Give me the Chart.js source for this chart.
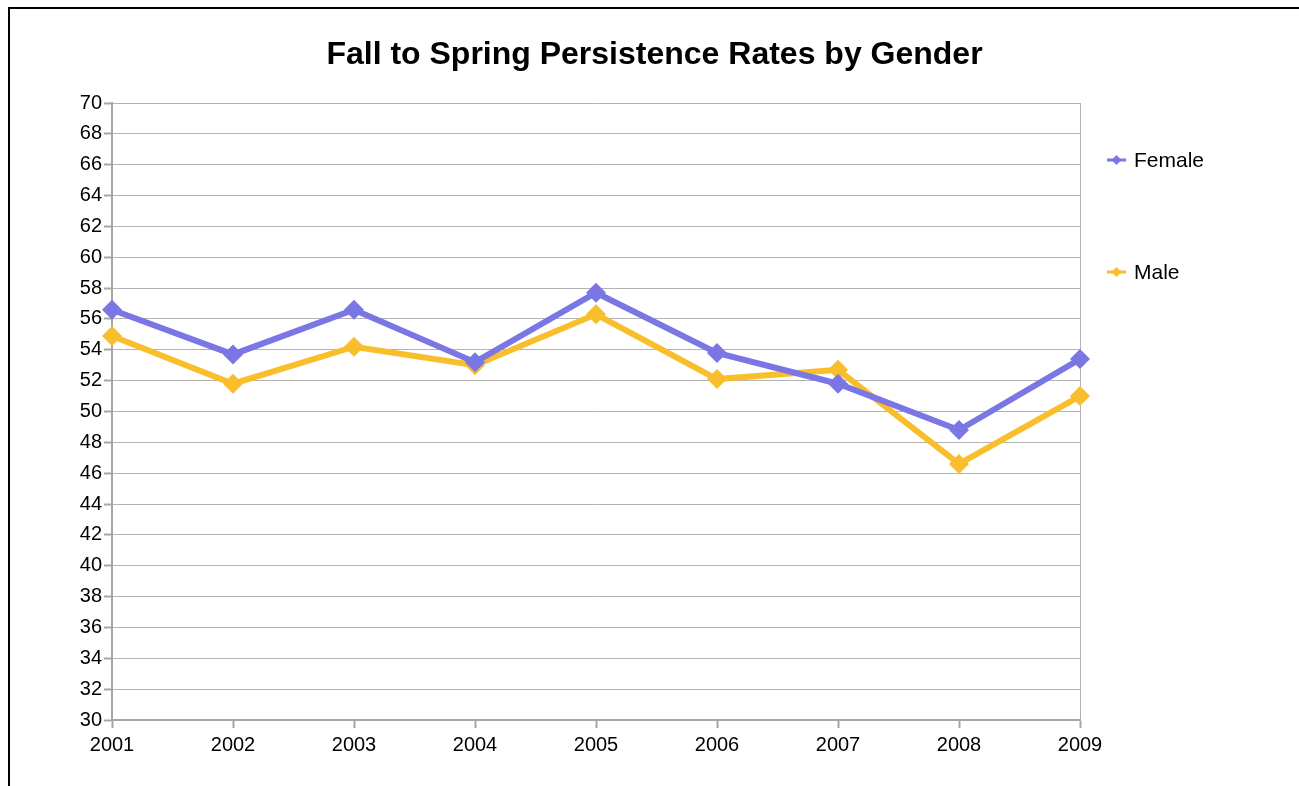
<!DOCTYPE html>
<html>
<head>
<meta charset="utf-8">
<script src="https://cdn.jsdelivr.net/npm/chart.js@4"></script>
<style>
  html, body { margin: 0; padding: 0; background: #fff; overflow: hidden; }
  #frame { position: absolute; left: 8px; top: 7px; width: 1400px; height: 900px; border: 2px solid #000; }
  #wrap { position: absolute; left: 0; top: 0; width: 1299px; height: 786px; }
</style>
</head>
<body>
<div id="frame"></div>
<div id="wrap"><canvas id="persistence" width="1299" height="786"></canvas></div>
<script>
// values
const years = ['2001', '2002', '2003', '2004', '2005', '2006', '2007', '2008', '2009'];
const female = [56.6, 53.7, 56.6, 53.2, 57.7, 53.8, 51.8, 48.8, 53.4];
const male = [54.9, 51.8, 54.2, 53.0, 56.3, 52.1, 52.7, 46.6, 51.0];

const femaleColor = 'rgb(122,118,228)';
const maleColor = 'rgb(249,190,43)';
const gridColor = '#b3b3b3';
const axisColor = '#a6a6a6';
const fontFamily = '"Liberation Sans", Arial, sans-serif';

// legend on the right: line with a diamond, like the spreadsheet one
const sideLegend = {
  id: 'sideLegend',
  afterDraw(chart) {
    const ctx = chart.ctx;
    const x0 = chart.chartArea.right + 27;
    chart.data.datasets.forEach((ds, i) => {
      const y = chart.chartArea.top + 57 + i * 112;
      ctx.save();
      ctx.strokeStyle = ds.borderColor;
      ctx.fillStyle = ds.borderColor;
      ctx.lineWidth = 3;
      ctx.beginPath();
      ctx.moveTo(x0, y);
      ctx.lineTo(x0 + 19, y);
      ctx.stroke();
      ctx.beginPath();
      ctx.moveTo(x0 + 9.5, y - 5);
      ctx.lineTo(x0 + 14.5, y);
      ctx.lineTo(x0 + 9.5, y + 5);
      ctx.lineTo(x0 + 4.5, y);
      ctx.closePath();
      ctx.fill();
      ctx.fillStyle = '#000';
      ctx.font = '21px ' + fontFamily;
      ctx.textBaseline = 'middle';
      ctx.fillText(ds.label, x0 + 27, y + 1);
      ctx.restore();
    });
  }
};

function chart() {
  const ctx = document.getElementById('persistence');
  new Chart(ctx, {
    type: 'line',
    data: {
      labels: years,
      datasets: [{
        label: 'Female',
        data: female,
        borderColor: femaleColor,
        backgroundColor: femaleColor,
        borderWidth: 6,
        pointStyle: 'rectRot',
        pointRadius: 10,
        pointBorderWidth: 0,
        tension: 0,
      }, {
        label: 'Male',
        data: male,
        borderColor: maleColor,
        backgroundColor: maleColor,
        borderWidth: 6,
        pointStyle: 'rectRot',
        pointRadius: 10,
        pointBorderWidth: 0,
        tension: 0,
      }]
    },
    options: {
      responsive: false,
      animation: false,
      layout: { padding: { left: 10, right: 0, top: 0, bottom: 24 } },
      scales: {
        x: {
          offset: false,
          grid: {
            color: (c) => c.index === years.length - 1 ? gridColor : 'rgba(0,0,0,0)',
            tickColor: axisColor,
            tickLength: 8,
            tickWidth: 2,
          },
          border: { color: axisColor, width: 2 },
          ticks: {
            color: '#000',
            padding: 5,
            maxRotation: 0,
            font: { size: 20, family: fontFamily },
          }
        },
        y: {
          min: 30,
          max: 70,
          afterFit: (scale) => { scale.width = 102; },
          grid: {
            color: gridColor,
            tickColor: axisColor,
            tickLength: 8,
            tickWidth: 2,
          },
          border: { color: axisColor, width: 2 },
          ticks: {
            stepSize: 2,
            color: '#000',
            padding: 2,
            font: { size: 20, family: fontFamily },
          }
        },
        // empty right-hand scale, only keeps room for the legend
        legendSpace: {
          type: 'linear',
          position: 'right',
          afterFit: (scale) => { scale.width = 219; },
          grid: { display: false },
          border: { display: false },
          ticks: { display: false },
        }
      },
      plugins: {
        legend: { display: false },
        tooltip: { enabled: false },
        title: {
          display: true,
          text: 'Fall to Spring Persistence Rates by Gender',
          color: '#000',
          font: { size: 32, weight: 'bold', family: fontFamily },
          padding: { top: 36, bottom: 28.6 },
        }
      }
    },
    plugins: [sideLegend]
  });
}
chart();
</script>
</body>
</html>
